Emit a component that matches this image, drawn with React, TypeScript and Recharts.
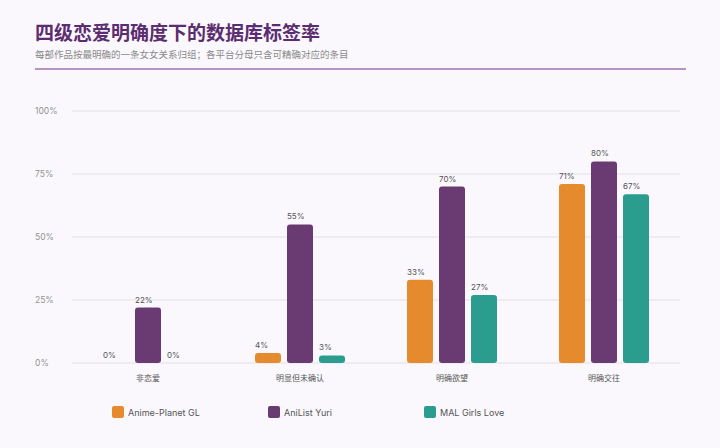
import React from "react";
import { BarChart, Bar, XAxis, YAxis, CartesianGrid } from "recharts";

const categories = ["非恋爱", "明显但未确认", "明确欲望", "明确交往"];
const animePlanet = [0, 4, 33, 71];
const anilist = [22, 55, 70, 80];
const mal = [0, 3, 27, 67];
const yTicks = [0, 25, 50, 75, 100];

const seriesInfo = [
  { key: "ap", name: "Anime-Planet GL", color: "#E68A2E" },
  { key: "al", name: "AniList Yuri", color: "#6A3A72" },
  { key: "mal", name: "MAL Girls Love", color: "#2A9D8F" },
];

const data = categories.map((c, i) => ({
  name: c,
  ap: animePlanet[i],
  al: anilist[i],
  mal: mal[i],
}));

const FONT = "Inter, 'Noto Sans CJK SC', sans-serif";

function ValueLabel(props: any) {
  const { x, y, value } = props;
  return (
    <text x={x} y={y - 5} textAnchor="start" fontSize={8} fill="#555" fontFamily={FONT}>
      {value}%
    </text>
  );
}

function YTick(props: any) {
  const { y, payload } = props;
  return (
    <text x={35} y={y + 3} textAnchor="start" fontSize={8.5} fill="#939393" fontFamily={FONT}>
      {payload.value}%
    </text>
  );
}

function XTick(props: any) {
  const { x, payload } = props;
  return (
    <text x={x} y={381} textAnchor="middle" fontSize={8} fill="#555" fontFamily={FONT}>
      {payload.value}
    </text>
  );
}

function LegendBox() {
  return (
    <div style={{ display: "flex", fontFamily: FONT }}>
      {seriesInfo.map((s) => (
        <div key={s.key} style={{ width: 156, display: "flex", alignItems: "center" }}>
          <span
            style={{ width: 12, height: 12, borderRadius: 2, background: s.color, display: "inline-block", marginRight: 4 }}
          />
          <span style={{ fontSize: 9, color: "#555" }}>{s.name}</span>
        </div>
      ))}
    </div>
  );
}

export default function App() {
  return (
    <div style={{ position: "fixed", left: 0, top: 0, width: 720, height: 448, background: "#FAF8FC", overflow: "hidden" }}>
      <div style={{ position: "absolute", left: 35, top: 21, fontFamily: FONT, fontSize: 19, fontWeight: 700, color: "#5B2C6F", lineHeight: "26px", whiteSpace: "nowrap" }}>
        四级恋爱明确度下的数据库标签率
      </div>
      <div style={{ position: "absolute", left: 35, top: 48, fontFamily: FONT, fontSize: 9.5, color: "#8A8A8A", lineHeight: "14px", whiteSpace: "nowrap" }}>
        每部作品按最明确的一条女女关系归组；各平台分母只含可精确对应的条目
      </div>
      <div style={{ position: "absolute", left: 35, top: 68, width: 651, height: 2, background: "#B594C4" }} />
      <div style={{ position: "absolute", left: 0, top: 0 }}>
        <BarChart
          width={720}
          height={448}
          data={data}
          margin={{ top: 111, right: 40, bottom: 55, left: 35 }}
          barSize={26}
          barGap={6}
        >
          <CartesianGrid vertical={false} stroke="#E2DEE6" />
          <XAxis dataKey="name" axisLine={false} tickLine={false} tick={<XTick />} interval={0} height={30} />
          <YAxis
            width={37}
            domain={[0, 100]}
            ticks={yTicks}
            axisLine={false}
            tickLine={false}
            tick={<YTick />}
          />
          {seriesInfo.map((s) => (
            <Bar
              key={s.key}
              dataKey={s.key}
              name={s.name}
              fill={s.color}
              radius={[3, 3, 3, 3]}
              minPointSize={0.01}
              isAnimationActive={false}
              label={<ValueLabel />}
            />
          ))}
        </BarChart>
      </div>
      <div style={{ position: "absolute", left: 112, top: 406 }}>
        <LegendBox />
      </div>
    </div>
  );
}
